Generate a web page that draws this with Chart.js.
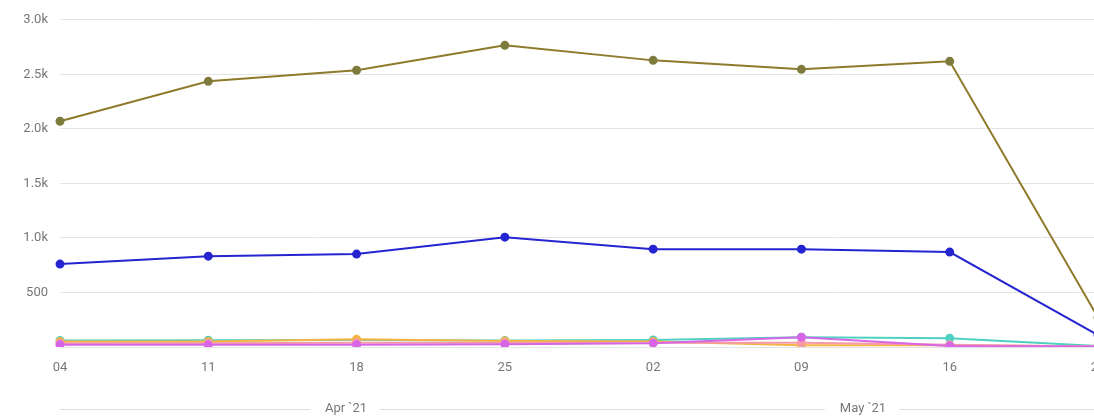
<!DOCTYPE html>
<html>
<head>
<meta charset="utf-8">
<script src="https://cdn.jsdelivr.net/npm/chart.js@4/dist/chart.umd.min.js"></script>
<style>
  html, body { margin: 0; padding: 0; background: #fff; overflow: hidden; }
  #wrap { position: relative; width: 1120px; height: 419px; }
</style>
</head>
<body>
<div id="wrap"><canvas id="c"></canvas></div>
<script>
// ---- data ----
const categories = ["04", "11", "18", "25", "02", "09", "16", "23"];
const brownSeries   = [2070, 2436, 2537, 2766, 2628, 2546, 2619, 270];
const blueSeries    = [760, 833, 852, 1007, 897, 897, 870, 110];
const tealSeries    = [60, 62, 65, 60, 65, 90, 80, 10];
const orangeSeries  = [50, 50, 70, 55, 50, 15, 15, 5];
const pinkSeries    = [35, 35, 40, 40, 40, 40, 20, 5];
const magentaSeries = [20, 20, 20, 25, 35, 90, 10, 5];
const yTicks = [0, 500, 1000, 1500, 2000, 2500, 3000];
const monthLabels = ["Apr `21", "May `21"];
const monthStartIndex = [-3 / 7, 27 / 7]; // Apr 1 and May 1, in weeks from Apr 4

const FONT = "Roboto, 'Open Sans', sans-serif";

function ds(label, data, color, pointColor) {
  return {
    label, data,
    borderColor: color,
    backgroundColor: pointColor || color,
    pointBackgroundColor: pointColor || color,
    pointBorderColor: pointColor || color,
    borderWidth: 2,
    pointRadius: 3.5,
    pointHoverRadius: 4,
    tension: 0
  };
}

const monthPlugin = {
  id: 'months',
  afterDraw(chart) {
    const ctx = chart.ctx;
    const xs = chart.scales.x;
    const left = chart.chartArea.left;
    const right = 1094;
    const y = 409;
    const step = xs.getPixelForValue(1) - xs.getPixelForValue(0);
    const x0 = xs.getPixelForValue(0);
    ctx.save();
    ctx.font = "13px " + FONT;
    ctx.fillStyle = "#777";
    ctx.textAlign = "center";
    ctx.textBaseline = "middle";
    const gaps = [];
    for (let i = 0; i < monthLabels.length; i++) {
      const s = Math.max(left, x0 + monthStartIndex[i] * step);
      const e = i + 1 < monthLabels.length ? x0 + monthStartIndex[i + 1] * step : right;
      const cx = (s + e) / 2;
      ctx.fillText(monthLabels[i], cx, y);
      const w = ctx.measureText(monthLabels[i]).width;
      gaps.push([cx - w / 2 - 15, cx + w / 2 + 13]);
    }
    ctx.strokeStyle = "#dedede";
    ctx.lineWidth = 1;
    ctx.beginPath();
    let cur = left;
    for (const g of gaps) {
      ctx.moveTo(cur, y + 0.5); ctx.lineTo(g[0], y + 0.5);
      cur = g[1];
    }
    ctx.moveTo(cur, y + 0.5); ctx.lineTo(right, y + 0.5);
    ctx.stroke();
    ctx.restore();
  }
};

new Chart(document.getElementById('c'), {
  type: 'line',
  data: {
    labels: categories,
    datasets: [
      ds('Magenta', magentaSeries, '#d766e6'),
      ds('Pink', pinkSeries, '#f59aa8'),
      ds('Orange', orangeSeries, '#f5b443'),
      ds('Teal', tealSeries, '#4fd1c1'),
      ds('Blue', blueSeries, '#2424d0'),
      ds('Brown', brownSeries, '#8f7a2b', '#7e7b3c')
    ]
  },
  options: {
    responsive: true,
    maintainAspectRatio: false,
    animation: false,
    layout: { padding: { top: 19, right: 22, bottom: 0, left: 0 } },
    plugins: { legend: { display: false }, tooltip: { enabled: false } },
    scales: {
      x: {
        type: 'category',
        offset: false,
        grid: { display: false, drawTicks: false },
        border: { display: false },
        ticks: { color: '#777', font: { family: FONT, size: 13 }, padding: 13, maxRotation: 0, autoSkip: false },
        afterFit(scale) { scale.height = 72; }
      },
      y: {
        min: 0, max: 3000,
        afterBuildTicks(scale) { scale.ticks = yTicks.map(v => ({ value: v })); },
        grid: { color: '#e4e4e4', drawTicks: false, lineWidth: 1 },
        border: { display: false },
        ticks: {
          color: '#777', font: { family: FONT, size: 13 }, padding: 12,
          callback(v) { if (v === 0) return ''; return v >= 1000 ? (v / 1000).toFixed(1) + 'k' : String(v); }
        },
        afterFit(scale) { scale.width = 60; }
      }
    }
  },
  plugins: [monthPlugin]
});
</script>
</body>
</html>
